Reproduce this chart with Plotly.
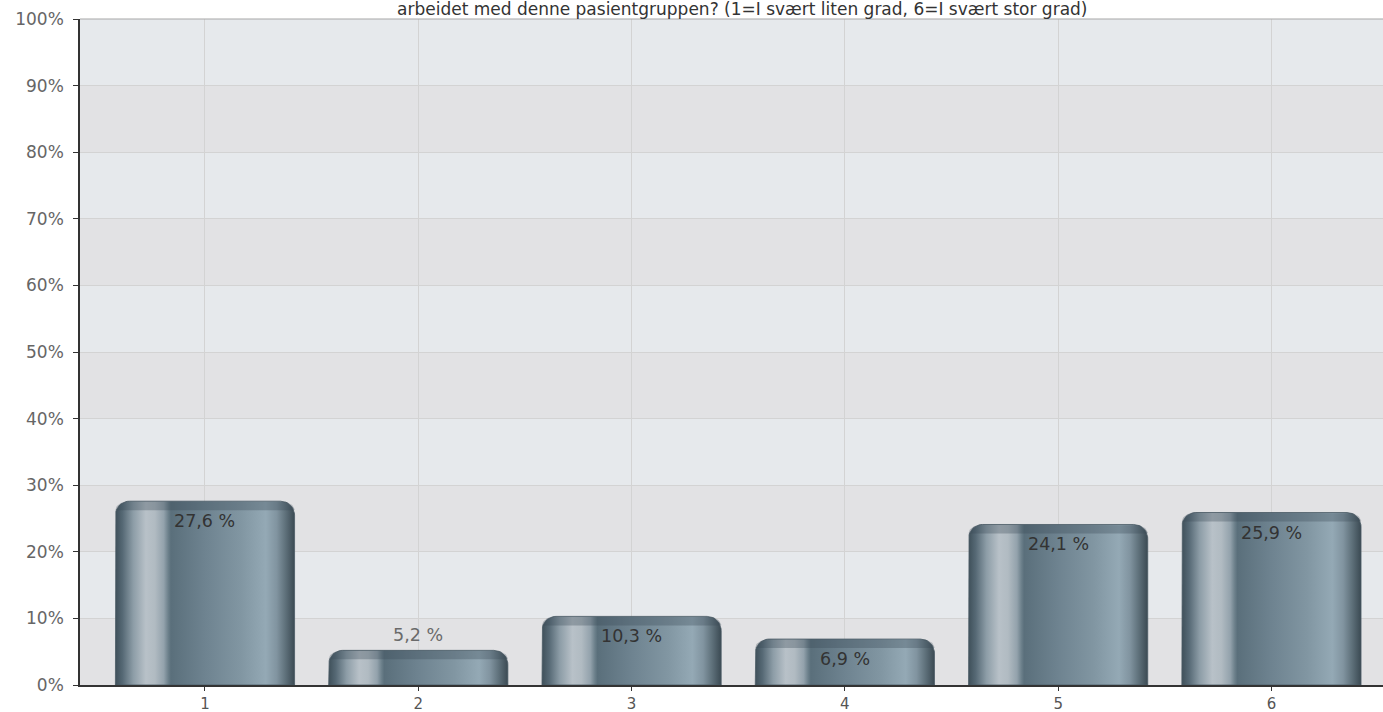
import math
import plotly.graph_objects as go

# Survey answers on a 1-6 scale, share of respondents in percent
categories = ["1", "2", "3", "4", "5", "6"]
shares = [27.6, 5.2, 10.3, 6.9, 24.1, 25.9]
y_ticks = list(range(0, 101, 10))
title_text = "arbeidet med denne pasientgruppen? (1=I svært liten grad, 6=I svært stor grad)"

# Layout geometry (pixels) used to convert corner radii into data units
W, H = 1383, 712
M_L, M_R, M_T, M_B = 80, 0, 19, 27
X_RANGE = [0.414, 6.523]
Y_RANGE = [0, 100]
plot_w = W - M_L - M_R
plot_h = H - M_T - M_B
dx_px = (X_RANGE[1] - X_RANGE[0]) / plot_w
dy_px = (Y_RANGE[1] - Y_RANGE[0]) / plot_h

BAR_HALF = 0.42
RADIUS = 14  # px, rounded top corners
CAP = 9      # px, darker top rim

# Horizontal shading that gives each bar its cylinder look
bar_scale = [
    [0.00, "#3f505a"],
    [0.04, "#566975"],
    [0.10, "#8d9da7"],
    [0.17, "#b8c1c8"],
    [0.22, "#b1bbc2"],
    [0.27, "#93a2ac"],
    [0.295, "#6c808b"],
    [0.31, "#5a6f7b"],
    [0.50, "#6e8390"],
    [0.70, "#8196a2"],
    [0.84, "#94a9b5"],
    [0.90, "#8194a0"],
    [0.95, "#5e707a"],
    [1.00, "#3b4a53"],
]


def rounded_top(xc, top, bottom):
    """Outline of a bar with rounded upper corners, in data units."""
    x0, x1 = xc - BAR_HALF, xc + BAR_HALF
    rx, ry = RADIUS * dx_px, RADIUS * dy_px
    ry = min(ry, (top - bottom))
    xs, ys = [x0, x0], [bottom, top - ry]
    n = 12
    for k in range(n + 1):
        a = math.pi - (math.pi / 2) * k / n
        xs.append(x0 + rx + rx * math.cos(a))
        ys.append(top - ry + ry * math.sin(a))
    for k in range(n + 1):
        a = math.pi / 2 - (math.pi / 2) * k / n
        xs.append(x1 - rx + rx * math.cos(a))
        ys.append(top - ry + ry * math.sin(a))
    xs += [x1, x0]
    ys += [bottom, bottom]
    return xs, ys


fig = go.Figure()

# Alternating horizontal bands behind the grid
shapes = []
for lo in y_ticks[:-1]:
    if (lo // 10) % 2 == 0:
        shapes.append(dict(type="rect", xref="paper", yref="y", x0=0, x1=1,
                           y0=lo, y1=lo + 10, fillcolor="#e2e2e4",
                           line=dict(width=0), layer="below"))
# top border of the plotting area
shapes.append(dict(type="line", xref="paper", yref="paper", x0=0, x1=1,
                   y0=1, y1=1, line=dict(color="#a8a8a8", width=1.2)))

annotations = []
for i, (cat, v) in enumerate(zip(categories, shares)):
    xc = i + 1
    xs, ys = rounded_top(xc, v, 0)
    fig.add_trace(go.Scatter(
        x=xs, y=ys, mode="lines", fill="toself",
        line=dict(width=0.8, color="#4a5b65"),
        fillgradient=dict(type="horizontal", colorscale=bar_scale),
        hoverinfo="skip", showlegend=False))
    # darker rim along the top of the bar
    cx, cy = rounded_top(xc, v, v - CAP * dy_px)
    fig.add_trace(go.Scatter(
        x=cx, y=cy, mode="lines", fill="toself",
        line=dict(width=0), fillcolor="rgba(55,72,84,0.32)",
        hoverinfo="skip", showlegend=False))

    label = f"{v:.1f}".replace(".", ",") + " %"
    inside = v / dy_px >= 40
    annotations.append(dict(
        x=xc, y=v, xref="x", yref="y", text=label, showarrow=False,
        yshift=-20 if inside else 15,
        font=dict(family="DejaVu Sans", size=17.5,
                  color="#333333" if inside else "#6a6a6a")))

annotations.append(dict(
    x=(742 - M_L) / plot_w, y=1, xref="paper", yref="paper",
    yanchor="bottom", yshift=-2, text=title_text, showarrow=False,
    font=dict(family="DejaVu Sans", size=17, color="#333333")))

fig.update_layout(
    width=W, height=H,
    margin=dict(l=M_L, r=M_R, t=M_T, b=M_B, autoexpand=False),
    paper_bgcolor="white",
    plot_bgcolor="#e6e9ec",
    shapes=shapes,
    annotations=annotations,
    showlegend=False,
)

fig.update_xaxes(
    range=X_RANGE, tickvals=list(range(1, len(categories) + 1)),
    ticktext=categories, showgrid=True, gridcolor="#d3d3d3", gridwidth=1,
    zeroline=False, showline=True, linecolor="#333333", linewidth=1.5,
    ticks="outside", ticklen=4, tickcolor="#333333", ticklabelstandoff=0,
    tickfont=dict(family="DejaVu Sans", size=15, color="#555555"),
    automargin=False, fixedrange=True)

fig.update_yaxes(
    range=Y_RANGE, tickvals=y_ticks, ticktext=[f"{t}%" for t in y_ticks],
    showgrid=True, gridcolor="#d3d3d3", gridwidth=1, zeroline=False,
    showline=True, linecolor="#333333", linewidth=1.5,
    ticks="outside", ticklen=5, tickcolor="#333333", ticklabelstandoff=6,
    tickfont=dict(family="DejaVu Sans", size=17, color="#666666"),
    automargin=False, fixedrange=True)

fig.write_html("out.html", config={"displayModeBar": False})
